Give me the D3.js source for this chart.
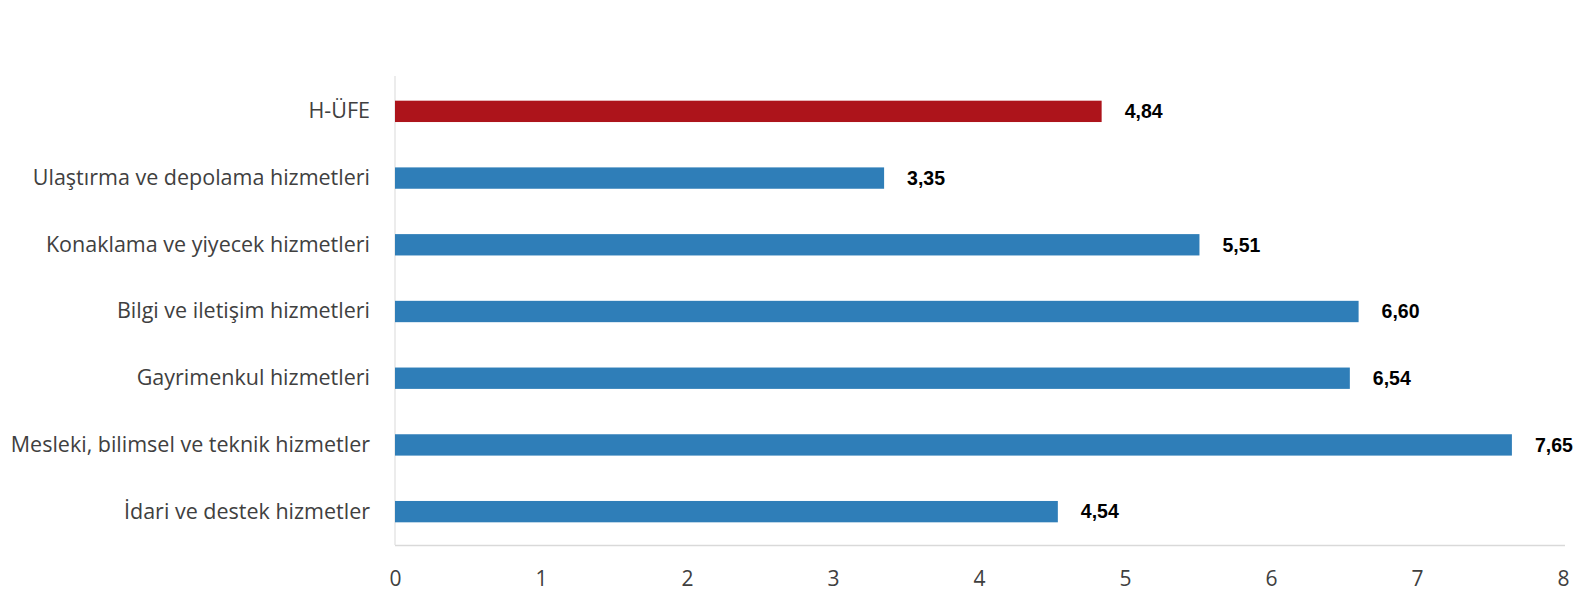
<!DOCTYPE html>
<html><head><meta charset="utf-8">
<script src="https://cdnjs.cloudflare.com/ajax/libs/d3/7.8.5/d3.min.js"></script>
<style>body{margin:0;background:#fff;}</style>
</head><body>
<svg id="c" width="1576" height="600"></svg>
<script>
const categories = ["H-ÜFE","Ulaştırma ve depolama hizmetleri","Konaklama ve yiyecek hizmetleri","Bilgi ve iletişim hizmetleri","Gayrimenkul hizmetleri","Mesleki, bilimsel ve teknik hizmetler","İdari ve destek hizmetler"];
const values = [4.84,3.35,5.51,6.60,6.54,7.65,4.54];
const valueLabels = ["4,84","3,35","5,51","6,60","6,54","7,65","4,54"];
const tickValues = [0,1,2,3,4,5,6,7,8];

const svg = d3.select("#c");
const x = d3.scaleLinear().domain([0,8]).range([395,1563]);
const y = d3.scaleBand().domain(categories).range([78,545]).paddingInner(0.68).paddingOuter(0.34);

svg.append("line").attr("x1",x(0)).attr("x2",x(0)).attr("y1",76).attr("y2",545).attr("stroke","#d9d9d9").attr("stroke-width",1);
svg.append("line").attr("x1",x(0)).attr("x2",1565).attr("y1",545.5).attr("y2",545.5).attr("stroke","#d9d9d9").attr("stroke-width",1.5);

const xAxis = d3.axisBottom(x).tickValues(tickValues).tickSize(0).tickFormat(d=>d);
const gx = svg.append("g").attr("transform","translate(0,572)").call(xAxis);
gx.select(".domain").remove();
gx.selectAll("text").attr("font-family","'Open Sans', sans-serif").attr("font-size",21).attr("fill","#404040").attr("y",0).attr("dy","0.35em").attr("transform","translate(0,7)");

const yAxis = d3.axisLeft(y).tickSize(0).tickPadding(0);
const gy = svg.append("g").attr("transform","translate(370,0)").call(yAxis);
gy.select(".domain").remove();
gy.selectAll("text").attr("font-family","'Open Sans', sans-serif").attr("font-size",21.5).attr("fill","#404040");

svg.append("g").selectAll("rect").data(categories).join("rect")
  .attr("x",x(0)).attr("y",d=>y(d)).attr("height",y.bandwidth())
  .attr("width",(d,i)=>x(values[i])-x(0))
  .attr("fill",(d,i)=>i===0?"#ad141b":"#2f7eb8");

svg.append("g").selectAll("text").data(categories).join("text")
  .attr("x",(d,i)=>x(values[i])+23).attr("y",d=>y(d)+y.bandwidth()/2).attr("dy","0.35em")
  .attr("font-family","'Liberation Sans', Arial, sans-serif").attr("font-weight","bold").attr("font-size",19.5).attr("fill","#000")
  .text((d,i)=>valueLabels[i]);
</script>
</body></html>
